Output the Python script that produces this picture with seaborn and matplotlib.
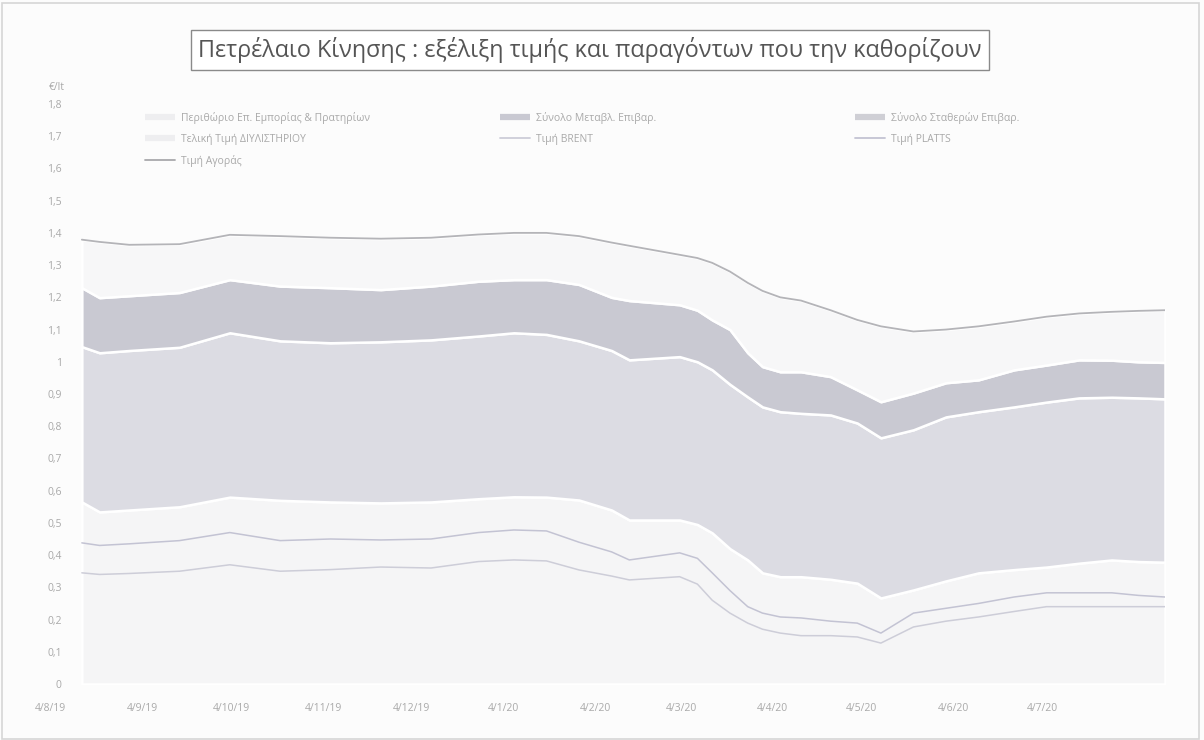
import pandas as pd
import numpy as np
import matplotlib.pyplot as plt
import matplotlib.transforms as mtransforms
from matplotlib.lines import Line2D
import seaborn as sns

# =============================================================================
# Data (euro per litre)
# =============================================================================
dates = ['2019-08-04', '2019-08-10', '2019-08-20', '2019-09-06', '2019-09-23',
         '2019-10-10', '2019-10-27', '2019-11-13', '2019-11-30', '2019-12-16',
         '2019-12-28', '2020-01-08', '2020-01-19', '2020-01-30', '2020-02-05',
         '2020-02-22', '2020-02-28', '2020-03-04', '2020-03-10', '2020-03-16',
         '2020-03-21', '2020-03-27', '2020-04-03', '2020-04-13', '2020-04-22',
         '2020-04-30', '2020-05-11', '2020-05-22', '2020-06-02', '2020-06-14',
         '2020-06-25', '2020-07-06', '2020-07-17', '2020-07-26', '2020-08-04']

# refinery price (bottom layer)
refinery_price = [0.565, 0.534, 0.540, 0.550, 0.580, 0.570, 0.565, 0.562, 0.565, 0.575,
                  0.581, 0.580, 0.571, 0.540, 0.509, 0.509, 0.495, 0.469, 0.420, 0.385,
                  0.345, 0.333, 0.333, 0.325, 0.313, 0.267, 0.292, 0.320, 0.345, 0.355,
                  0.363, 0.375, 0.385, 0.380, 0.378]
# refinery + fixed charges
level_fixed = [1.047, 1.028, 1.035, 1.045, 1.090, 1.065, 1.059, 1.062, 1.068, 1.080,
               1.090, 1.085, 1.065, 1.035, 1.006, 1.016, 1.000, 0.975, 0.930, 0.891,
               0.860, 0.845, 0.840, 0.835, 0.810, 0.764, 0.789, 0.829, 0.845, 0.860,
               0.875, 0.888, 0.890, 0.888, 0.885]
# refinery + fixed + variable charges
level_variable = [1.230, 1.199, 1.205, 1.215, 1.255, 1.235, 1.230, 1.224, 1.235, 1.250,
                  1.255, 1.255, 1.240, 1.200, 1.190, 1.177, 1.160, 1.130, 1.100, 1.028,
                  0.985, 0.969, 0.969, 0.954, 0.913, 0.876, 0.903, 0.935, 0.944, 0.975,
                  0.990, 1.006, 1.005, 1.000, 0.998]
# retail price (top of the stack)
retail_price = [1.379, 1.372, 1.363, 1.365, 1.394, 1.390, 1.385, 1.382, 1.385, 1.395,
                1.400, 1.400, 1.390, 1.370, 1.360, 1.332, 1.322, 1.307, 1.280, 1.245,
                1.220, 1.200, 1.190, 1.160, 1.130, 1.110, 1.094, 1.100, 1.110, 1.125,
                1.140, 1.150, 1.155, 1.158, 1.160]
platts = [0.438, 0.430, 0.435, 0.445, 0.470, 0.445, 0.450, 0.447, 0.450, 0.470,
          0.478, 0.475, 0.440, 0.410, 0.385, 0.407, 0.390, 0.345, 0.290, 0.240,
          0.220, 0.208, 0.205, 0.195, 0.189, 0.158, 0.220, 0.235, 0.250, 0.270,
          0.283, 0.283, 0.283, 0.275, 0.270]
brent = [0.345, 0.340, 0.343, 0.350, 0.370, 0.350, 0.355, 0.363, 0.360, 0.380,
         0.385, 0.382, 0.354, 0.335, 0.323, 0.333, 0.310, 0.260, 0.220, 0.189,
         0.170, 0.158, 0.150, 0.150, 0.146, 0.127, 0.177, 0.195, 0.208, 0.225,
         0.240, 0.240, 0.240, 0.240, 0.240]

tick_dates = ['2019-08-04', '2019-09-04', '2019-10-04', '2019-11-04', '2019-12-04',
              '2020-01-04', '2020-02-04', '2020-03-04', '2020-04-04', '2020-05-04',
              '2020-06-04', '2020-07-04']
tick_labels = ['4/8/19', '4/9/19', '4/10/19', '4/11/19', '4/12/19', '4/1/20',
               '4/2/20', '4/3/20', '4/4/20', '4/5/20', '4/6/20', '4/7/20']

df = pd.DataFrame({'date': pd.to_datetime(dates),
                   'refinery': refinery_price,
                   'lvl_fixed': level_fixed,
                   'lvl_var': level_variable,
                   'retail': retail_price,
                   'platts': platts,
                   'brent': brent})
df['fixed'] = df['lvl_fixed'] - df['refinery']
df['variable'] = df['lvl_var'] - df['lvl_fixed']
df['margin'] = df['retail'] - df['lvl_var']

# =============================================================================
# Plot
# =============================================================================
sns.set_theme(style='white')
plt.rcParams['font.family'] = ['Open Sans', 'DejaVu Sans']

c_margin = '#f7f7f8'
c_var = '#c9c9d2'
c_fixed = '#dcdce3'
c_ref = '#f5f5f6'
c_retail = '#b4b4b8'
c_platts = '#c3c3d3'
c_brent = '#cdcdd8'
txt_col = '#a9a9a9'

fig = plt.figure(figsize=(12.04, 7.4), dpi=100)
fig.patch.set_facecolor('#fcfcfc')
W, H = 1204, 740
ax = fig.add_axes([70 / W, 56 / H, (1165 - 70) / W, 580 / H])
ax.set_facecolor('#fcfcfc')

ax.stackplot(df['date'], df['refinery'], df['fixed'], df['variable'], df['margin'],
             colors=[c_ref, c_fixed, c_var, c_margin], edgecolor='white', linewidth=1.8)

sns.lineplot(data=df, x='date', y='retail', color=c_retail, lw=1.3, ax=ax, legend=False)
sns.lineplot(data=df, x='date', y='platts', color=c_platts, lw=1.1, ax=ax, legend=False)
sns.lineplot(data=df, x='date', y='brent', color=c_brent, lw=1.1, ax=ax, legend=False)

start = df['date'].iloc[0]
ax.set_xlim(start - pd.Timedelta(days=4), df['date'].iloc[-1])
ax.set_ylim(0, 1.8)
for s in ax.spines.values():
    s.set_visible(False)

yt = np.round(np.arange(0, 1.81, 0.1), 1)
ax.set_yticks(yt)
ax.set_yticklabels([('%g' % v).replace('.', ',') for v in yt], color=txt_col, fontsize=7.5)
ax.tick_params(axis='y', length=0, pad=6)
ax.set_xticks([])
ax.set_xlabel('')
ax.set_ylabel('')

trans = mtransforms.blended_transform_factory(ax.transData, ax.transAxes)
for d, lab in zip(tick_dates, tick_labels):
    ax.text(pd.Timestamp(d) - pd.Timedelta(days=10.5), -0.042, lab, transform=trans,
            ha='center', va='center', fontsize=7.5, color=txt_col, clip_on=False)

fig.text(57 / W, 1 - 88 / H, '€/lt', ha='center', va='center', fontsize=7.5, color=txt_col)

# title in a box
fig.text(590 / W, 1 - 50 / H,
         'Πετρέλαιο Κίνησης : εξέλιξη τιμής και παραγόντων που την καθορίζουν',
         ha='center', va='center', fontsize=16.8, color='#555555',
         bbox=dict(boxstyle='square,pad=0.3', facecolor='white', edgecolor='#8a8a8a', lw=1))

# legend, three columns placed like the original
def h_area(c):
    return Line2D([], [], color=c, lw=4.5, solid_capstyle='butt')

def h_line(c):
    return Line2D([], [], color=c, lw=1.3)

columns = [
    (145, [h_area('#eeeef0'), h_area('#eeeef0'), h_line('#a8a8ac')],
     ['Περιθώριο Επ. Εμπορίας & Πρατηρίων', 'Τελική Τιμή ΔΙΥΛΙΣΤΗΡΙΟΥ', 'Τιμή Αγοράς']),
    (500, [h_area(c_var), h_line(c_brent)],
     ['Σύνολο Μεταβλ. Επιβαρ.', 'Τιμή BRENT']),
    (855, [h_area('#cfcfd5'), h_line(c_platts)],
     ['Σύνολο Σταθερών Επιβαρ.', 'Τιμή PLATTS']),
]
for x0, handles, labels in columns:
    leg = fig.legend(handles, labels, loc='upper left',
                     bbox_to_anchor=(x0 / W, 1 - 112 / H), bbox_transform=fig.transFigure,
                     frameon=False, fontsize=7.5, handlelength=2.9, handletextpad=0.6,
                     labelspacing=0.95, borderpad=0, borderaxespad=0, labelcolor=txt_col)

# thin frame like the scanned page border
fig.add_artist(plt.Rectangle((0.002, 0.002), 0.994, 0.994, transform=fig.transFigure,
                             fill=False, edgecolor='#d6d6d6', lw=1.2))

plt.savefig('out.png', dpi=100, facecolor=fig.get_facecolor())
